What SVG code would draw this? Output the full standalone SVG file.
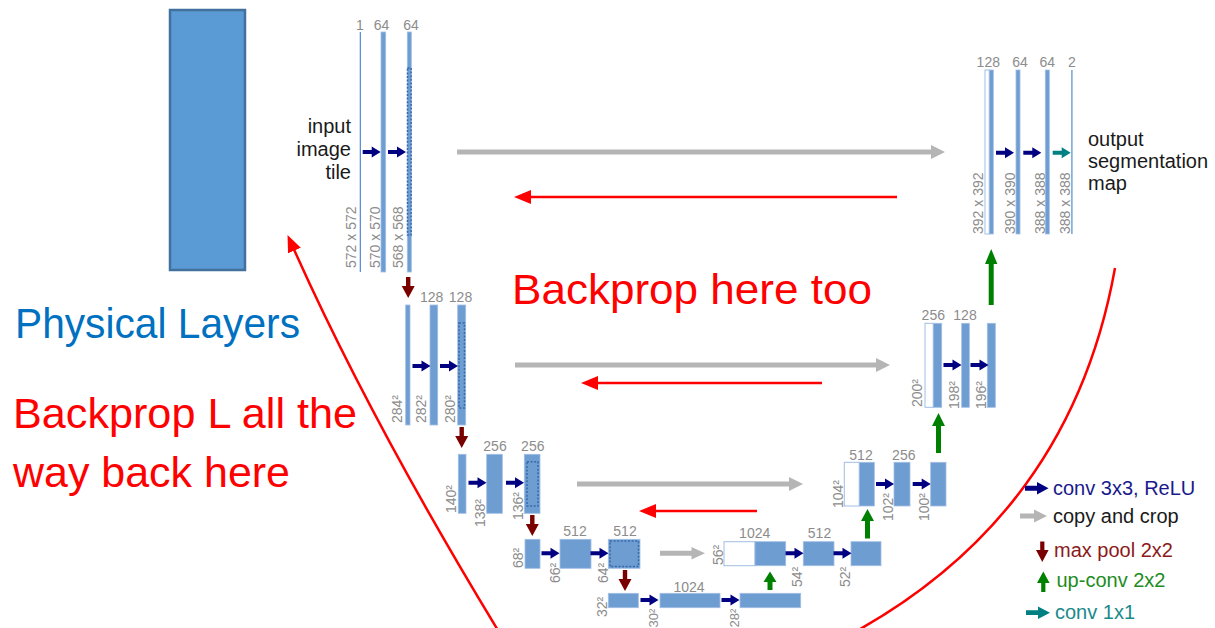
<svg xmlns="http://www.w3.org/2000/svg" xmlns:xlink="http://www.w3.org/1999/xlink" width="1215" height="628" viewBox="0 0 1215 628">
<style>
.bar{fill:#6e9dd2;stroke:#a2bee3;stroke-width:0.8}
.cp{fill:#fff;stroke:#a2bee3;stroke-width:1}
.dot{fill:none;stroke:#3768aa;stroke-width:1.5;stroke-dasharray:2 1.6}
.ch{font-family:"Liberation Sans",Arial,sans-serif;font-size:14px;fill:#8c8c8c;text-anchor:middle}
.dim{font-family:"Liberation Sans",Arial,sans-serif;font-size:14px;fill:#8c8c8c}
.lab{font-family:"Liberation Sans",Arial,sans-serif;font-size:20px;fill:#1a1a1a}
.big{font-family:"Liberation Sans",Arial,sans-serif;font-size:43px}
.conv{fill:#000080}
.pool{fill:#7a0000}
.up{fill:#008000}
.copy{fill:#b5b5b5}
.one{fill:#008080}
.red{stroke:#ff0000;stroke-width:2.5;fill:none}
.leg{font-family:"Liberation Sans",Arial,sans-serif;font-size:20px}
</style>
<defs>
<path id="ra" d="M0,-2 H9 V-5.5 L18,0 L9,5.5 V2 H0 Z"/>
<path id="da" d="M-2.2,0 V9 H-6.5 L0,21 L6.5,9 H2.2 V0 Z"/>
<marker id="rh" markerUnits="userSpaceOnUse" markerWidth="18" markerHeight="14" viewBox="0 0 18 14" refX="6" refY="7" orient="auto">
<path d="M0,0 L17,7 L0,14 Z" fill="#ff0000"/>
</marker>
</defs>
<rect width="1215" height="628" fill="#fff"/>

<g id="physical-layers">
<rect x="170" y="10" width="75" height="260" fill="#5b9bd5" stroke="#41719c" stroke-width="2.5"/>
<text class="big" x="15" y="338" fill="#0070c0" textLength="285" lengthAdjust="spacingAndGlyphs">Physical Layers</text>
</g>
<g id="backprop-texts">
<text class="big" x="512" y="304" fill="#ff0000" textLength="360" lengthAdjust="spacingAndGlyphs">Backprop here too</text>
<text class="big" x="13" y="428" fill="#ff0000" textLength="344" lengthAdjust="spacingAndGlyphs">Backprop L all the</text>
<text class="big" x="13" y="487" fill="#ff0000" textLength="277" lengthAdjust="spacingAndGlyphs">way back here</text>
</g>

<!-- Level 1 left -->
<g id="l1-input">
<rect x="359.7" y="32" width="1.3" height="240" fill="#5f90d3"/>
<text class="ch" x="360" y="30">1</text>
<text class="dim" transform="translate(356,268) rotate(-90)">572 x 572</text>
<text class="lab" x="351" y="133" text-anchor="end">input</text>
<text class="lab" x="351" y="156" text-anchor="end">image</text>
<text class="lab" x="351" y="179" text-anchor="end">tile</text>
</g>
<g id="l1-conv1">
<rect class="bar" x="381" y="32" width="4.7" height="240"/>
<text class="ch" x="381.5" y="30">64</text>
<text class="dim" transform="translate(380,268) rotate(-90)">570 x 570</text>
</g>
<g id="l1-conv2">
<rect class="bar" x="407.3" y="32" width="4" height="240"/>
<rect class="dot" x="407.5" y="68" width="3.6" height="167"/>
<text class="ch" x="411" y="30">64</text>
<text class="dim" transform="translate(403,268) rotate(-90)">568 x 568</text>
</g>

<!-- Level 2 left -->
<g id="l2-in">
<rect class="bar" x="405.7" y="305" width="4.3" height="120"/>
<text class="dim" transform="translate(402,423) rotate(-90)">284²</text>
</g>
<g id="l2-conv1">
<rect class="bar" x="430" y="305" width="7.7" height="120"/>
<text class="ch" x="431.7" y="301.5">128</text>
<text class="dim" transform="translate(426,423) rotate(-90)">282²</text>
</g>
<g id="l2-conv2">
<rect class="bar" x="457.7" y="305" width="8" height="120"/>
<rect class="dot" x="459" y="323" width="5.5" height="85"/>
<text class="ch" x="460.5" y="301.5">128</text>
<text class="dim" transform="translate(455,423) rotate(-90)">280²</text>
</g>

<!-- Level 3 left -->
<g id="l3-in">
<rect class="bar" x="458.3" y="454.3" width="7.7" height="59"/>
<text class="dim" transform="translate(456,513) rotate(-90)">140²</text>
</g>
<g id="l3-conv1">
<rect class="bar" x="486.7" y="454.3" width="15.6" height="59"/>
<text class="ch" x="495" y="450.5">256</text>
<text class="dim" transform="translate(485,527) rotate(-90)">138²</text>
</g>
<g id="l3-conv2">
<rect class="bar" x="524.3" y="454.3" width="15.7" height="59"/>
<rect class="dot" x="527" y="461.7" width="11" height="44.3"/>
<text class="ch" x="532.8" y="450.5">256</text>
<text class="dim" transform="translate(523,520) rotate(-90)">136²</text>
</g>

<!-- Level 4 left -->
<g id="l4-in">
<rect class="bar" x="525" y="539.3" width="15" height="29"/>
<text class="dim" transform="translate(523,568) rotate(-90)">68²</text>
</g>
<g id="l4-conv1">
<rect class="bar" x="560" y="539.3" width="31" height="29"/>
<text class="ch" x="575" y="536">512</text>
<text class="dim" transform="translate(560,583) rotate(-90)">66²</text>
</g>
<g id="l4-conv2">
<rect class="bar" x="608.3" y="539.3" width="31.7" height="29"/>
<rect class="dot" x="610" y="541" width="28.5" height="25.5"/>
<text class="ch" x="625" y="536">512</text>
<text class="dim" transform="translate(608,583) rotate(-90)">64²</text>
</g>

<!-- Level 5 bottom -->
<g id="l5-in">
<rect class="bar" x="608.3" y="593.3" width="30" height="14.4"/>
<text class="dim" transform="translate(607,617) rotate(-90)">32²</text>
</g>
<g id="l5-conv1">
<rect class="bar" x="660" y="593.3" width="60" height="14.4"/>
<text class="ch" x="689" y="591.5">1024</text>
<text class="dim" style="font-size:13px" transform="translate(658,627.5) rotate(-90)">30²</text>
</g>
<g id="l5-conv2">
<rect class="bar" x="740" y="593.3" width="60.7" height="14.4"/>
<text class="dim" style="font-size:13px" transform="translate(739,627.5) rotate(-90)">28²</text>
</g>

<!-- Level 4 right -->
<g id="l4r-in">
<rect class="cp" x="724" y="541.7" width="31" height="24"/>
<rect class="bar" x="755" y="541.7" width="30.7" height="24"/>
<text class="ch" x="754.7" y="538">1024</text>
<text class="dim" transform="translate(723,565) rotate(-90)">56²</text>
</g>
<g id="l4r-conv1">
<rect class="bar" x="803.3" y="541.7" width="30.7" height="24"/>
<text class="ch" x="819.5" y="538">512</text>
<text class="dim" transform="translate(802,587) rotate(-90)">54²</text>
</g>
<g id="l4r-conv2">
<rect class="bar" x="851" y="541.7" width="30" height="24"/>
<text class="dim" transform="translate(850,587) rotate(-90)">52²</text>
</g>

<!-- Level 3 right -->
<g id="l3r-in">
<rect class="cp" x="844.3" y="462.3" width="15" height="43.7"/>
<rect class="bar" x="859.3" y="462.3" width="15" height="43.7"/>
<text class="ch" x="861" y="460">512</text>
<text class="dim" transform="translate(843,508) rotate(-90)">104²</text>
</g>
<g id="l3r-conv1">
<rect class="bar" x="894" y="462.3" width="16" height="43.7"/>
<text class="ch" x="903.8" y="460">256</text>
<text class="dim" transform="translate(893,521) rotate(-90)">102²</text>
</g>
<g id="l3r-conv2">
<rect class="bar" x="930.7" y="462.3" width="15.3" height="43.7"/>
<text class="dim" transform="translate(929,521) rotate(-90)">100²</text>
</g>

<!-- Level 2 right -->
<g id="l2r-in">
<rect class="cp" x="925" y="323.3" width="8.3" height="84"/>
<rect class="bar" x="933.3" y="323.3" width="8.4" height="84"/>
<text class="ch" x="933.3" y="320">256</text>
<text class="dim" transform="translate(922,407) rotate(-90)">200²</text>
</g>
<g id="l2r-conv1">
<rect class="bar" x="961.7" y="323.3" width="7.6" height="84"/>
<text class="ch" x="965" y="320">128</text>
<text class="dim" transform="translate(959,409) rotate(-90)">198²</text>
</g>
<g id="l2r-conv2">
<rect class="bar" x="987.3" y="323.3" width="8" height="84"/>
<text class="dim" transform="translate(986,409) rotate(-90)">196²</text>
</g>

<!-- Level 1 right -->
<g id="l1r-in">
<rect class="cp" x="985" y="70" width="4.3" height="164"/>
<rect class="bar" x="989.3" y="70" width="4" height="164"/>
<text class="ch" x="988.3" y="67.3">128</text>
<text class="dim" transform="translate(983,234) rotate(-90)">392 x 392</text>
</g>
<g id="l1r-conv1">
<rect class="bar" x="1016" y="70" width="4" height="164"/>
<text class="ch" x="1020" y="67.3">64</text>
<text class="dim" transform="translate(1015,234) rotate(-90)">390 x 390</text>
</g>
<g id="l1r-conv2">
<rect class="bar" x="1045.3" y="70" width="4" height="164"/>
<text class="ch" x="1047.2" y="67.3">64</text>
<text class="dim" transform="translate(1045,234) rotate(-90)">388 x 388</text>
</g>
<g id="l1r-out">
<rect x="1071.2" y="70" width="1.4" height="164" fill="#6e9dd2"/>
<text class="ch" x="1072" y="67.3">2</text>
<text class="dim" transform="translate(1070,234) rotate(-90)">388 x 388</text>
<text class="lab" x="1088" y="146">output</text>
<text class="lab" x="1088" y="168">segmentation</text>
<text class="lab" x="1088" y="190">map</text>
</g>

<g id="connectors">
<!-- conv 3x3 arrows -->
<use href="#ra" class="conv" x="362.7" y="152"/>
<use href="#ra" class="conv" x="388" y="152"/>
<use href="#ra" class="conv" x="412.5" y="366"/>
<use href="#ra" class="conv" x="440" y="366"/>
<use href="#ra" class="conv" x="468.5" y="482.7"/>
<use href="#ra" class="conv" x="506" y="482.7"/>
<use href="#ra" class="conv" x="541.5" y="553.3"/>
<use href="#ra" class="conv" x="590.5" y="553.3"/>
<use href="#ra" class="conv" x="640.5" y="600"/>
<use href="#ra" class="conv" x="721.5" y="600"/>
<use href="#ra" class="conv" x="785.5" y="553.3"/>
<use href="#ra" class="conv" x="833.5" y="553.3"/>
<use href="#ra" class="conv" x="876" y="484"/>
<use href="#ra" class="conv" x="912.7" y="484"/>
<use href="#ra" class="conv" x="943.5" y="365"/>
<use href="#ra" class="conv" x="970.5" y="365"/>
<use href="#ra" class="conv" x="996" y="152.7"/>
<use href="#ra" class="conv" x="1023.3" y="152.7"/>
<use href="#ra" class="one" x="1052.7" y="152.7"/>
<!-- max pool -->
<use href="#da" class="pool" x="408.2" y="277"/>
<use href="#da" class="pool" x="461.7" y="427"/>
<use href="#da" class="pool" x="532.3" y="515"/>
<use href="#da" class="pool" x="625" y="570"/>
<!-- up-conv -->
<path class="up" d="M767.5,590 V582 H763.5 L770,571.5 L776.5,582 H772.5 V590 Z"/>
<path class="up" d="M865,538.5 V521 H861 L867.5,509 L874,521 H870 V538.5 Z"/>
<path class="up" d="M936,453 V426 H932 L938.5,413 L945,426 H941 V453 Z"/>
<path class="up" d="M988.7,305 V264 H985 L991.2,249 L997.4,264 H993.7 V305 Z"/>
<!-- copy and crop -->
<path class="copy" d="M457,149.5 H931 V145 L945,152 L931,159 V154.5 H457 Z"/>
<path class="copy" d="M515,362.5 H876 V358 L890,365 L876,372 V367.5 H515 Z"/>
<path class="copy" d="M577,481.5 H789 V477 L803,484 L789,491 V486.5 H577 Z"/>
<path class="copy" d="M660,550.8 H691.5 V547 L705,553.3 L691.5,559.6 V555.8 H660 Z"/>
<!-- red backprop arrows -->
<line class="red" x1="897" y1="197" x2="525" y2="197" marker-end="url(#rh)"/>
<line class="red" x1="822" y1="383" x2="592" y2="383" marker-end="url(#rh)"/>
<line class="red" x1="757" y1="511" x2="650" y2="511" marker-end="url(#rh)"/>
<path class="red" d="M1115,268 Q1070,520 840,640 L510,650 Q372,425 292,245" marker-end="url(#rh)"/>
</g>

<g id="legend">
<path class="conv" d="M1025,485.8 H1037 V482 L1048.5,488.3 L1037,494.6 V490.8 H1025 Z"/>
<text class="leg" x="1053" y="495" fill="#1a1a8c">conv 3x3, ReLU</text>
<path class="copy" d="M1020,513.5 H1034 V509.5 L1047,516 L1034,522.5 V518.5 H1020 Z"/>
<text class="leg" x="1053" y="523" fill="#1a1a1a">copy and crop</text>
<path class="pool" d="M1040.2,541.5 V550 H1036 L1042.3,562 L1048.6,550 H1044.4 V541.5 Z"/>
<text class="leg" x="1054" y="557" fill="#8b1a1a">max pool 2x2</text>
<path class="up" d="M1041.2,592 V583 H1037 L1043.3,571.5 L1049.6,583 H1045.4 V592 Z"/>
<text class="leg" x="1056.5" y="587" fill="#1e8c1e">up-conv 2x2</text>
<path class="one" d="M1026,610.3 H1038 V606.5 L1050,612.7 L1038,618.9 V615.1 H1026 Z"/>
<text class="leg" x="1055" y="618.5" fill="#1a8a8a">conv 1x1</text>
</g>
</svg>
